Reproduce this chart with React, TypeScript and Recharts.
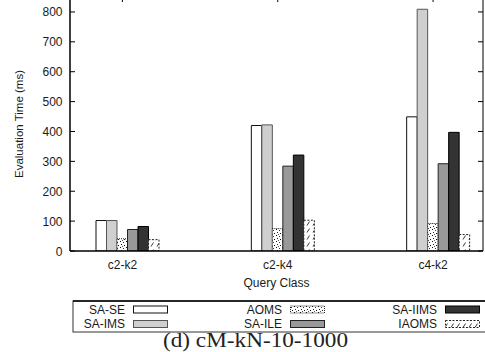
import React from 'react';
import { BarChart, Bar, XAxis, YAxis, ReferenceLine } from 'recharts';

const categories = ['c2-k2', 'c2-k4', 'c4-k2'];
const seriesNames = ['SA-SE', 'SA-IMS', 'AOMS', 'SA-ILE', 'SA-IIMS', 'IAOMS'];
const saSe = [102, 420, 449];
const saIms = [102, 422, 809];
const aoms = [41, 75, 92];
const saIle = [72, 284, 292];
const saIims = [82, 321, 397];
const iaoms = [38, 103, 55];
const yTicks = [0, 100, 200, 300, 400, 500, 600, 700, 800];

const seriesValues = [saSe, saIms, aoms, saIle, saIims, iaoms];

const data = categories.map((name, i) => {
  const row: Record<string, string | number> = { name };
  seriesNames.forEach((s, j) => {
    row[s] = seriesValues[j][i];
  });
  return row;
});

// look of each series (gnuplot-ish fills)
const styles: Record<string, { fill: string; stroke: string; dash?: string }> = {
  'SA-SE': { fill: '#ffffff', stroke: '#111' },
  'SA-IMS': { fill: '#cfcfcf', stroke: '#555' },
  AOMS: { fill: 'url(#patAoms)', stroke: '#222', dash: '1 1' },
  'SA-ILE': { fill: '#999999', stroke: '#222' },
  'SA-IIMS': { fill: '#333333', stroke: '#000' },
  IAOMS: { fill: 'url(#patIaoms)', stroke: '#222', dash: '2 1.5' },
};

const FONT = '"Liberation Sans", Arial, Helvetica, sans-serif';
const TEXT = '#1a1a1a';
const PLOT_LEFT = 70;
const PLOT_RIGHT = 483;
const PLOT_TOP = 8;
const PLOT_BOTTOM = 262;
const BAR = 10.5;
const SHIFT = BAR / 2;

function LeftTick(props: any) {
  const { y, payload } = props;
  return (
    <g>
      <line x1={PLOT_LEFT} x2={PLOT_LEFT + 5} y1={y} y2={y} stroke="#000" />
      <line x1={PLOT_RIGHT - 5} x2={PLOT_RIGHT} y1={y} y2={y} stroke="#000" />
      <text x={62.5} y={y + 4.5} textAnchor="end" fontSize={12} fontFamily={FONT} fill={TEXT}>
        {payload.value}
      </text>
    </g>
  );
}

function BottomTick(props: any) {
  const { x, payload } = props;
  const cx = x - SHIFT;
  return (
    <g>
      <line x1={cx} x2={cx} y1={PLOT_TOP} y2={PLOT_TOP + 5} stroke="#000" />
      <text x={cx} y={PLOT_BOTTOM + 18} textAnchor="middle" fontSize={12} fontFamily={FONT} fill={TEXT}>
        {payload.value}
      </text>
    </g>
  );
}

function YTitle(props: any) {
  const vb = props.viewBox || { y: PLOT_TOP, height: PLOT_BOTTOM - PLOT_TOP };
  const cy = vb.y + vb.height / 2;
  return (
    <text
      x={18.5}
      y={cy}
      transform={`rotate(-90 18.5 ${cy})`}
      textAnchor="middle"
      dominantBaseline="central"
      fontSize={11.5}
      fontFamily={FONT}
      fill={TEXT}
    >
      Evaluation Time (ms)
    </text>
  );
}

function XTitle(props: any) {
  const vb = props.viewBox || { x: PLOT_LEFT, width: PLOT_RIGHT - PLOT_LEFT, y: PLOT_BOTTOM };
  return (
    <text
      x={vb.x + vb.width / 2}
      y={PLOT_BOTTOM + 36.3}
      textAnchor="middle"
      fontSize={12}
      fontFamily={FONT}
      fill={TEXT}
    >
      Query Class
    </text>
  );
}

const legendCols = [125, 282, 437];
const legendRows = [309.5, 324];

function LegendBox() {
  return (
    <svg
      width={485}
      height={352}
      style={{ position: 'absolute', left: 0, top: 0, pointerEvents: 'none' }}
    >
      <defs>
        <pattern id="patAoms" width="6" height="6" patternUnits="userSpaceOnUse">
          <rect width="6" height="6" fill="#fff" />
          <rect x="0" y="0" width="1" height="1" fill="#111" />
          <rect x="3" y="1" width="1" height="1" fill="#333" />
          <rect x="1" y="3" width="1" height="1" fill="#222" />
          <rect x="4" y="4" width="1" height="1" fill="#111" />
          <rect x="2" y="5" width="1" height="1" fill="#555" />
        </pattern>
        <pattern id="patIaoms" width="6" height="7" patternUnits="userSpaceOnUse">
          <rect width="6" height="7" fill="#fff" />
          <line x1="1" y1="5.5" x2="3.5" y2="1.5" stroke="#222" strokeWidth="0.9" />
        </pattern>
      </defs>
      <rect x={73} y={301} width={430} height={31} fill="none" stroke="#333" strokeWidth={1} />
      <line x1={73} x2={485} y1={301} y2={301} stroke="#000" strokeWidth={1.6} />
      {seriesNames.map((s, i) => {
        const col = Math.floor(i / 2);
        const row = i % 2;
        const tx = legendCols[col];
        const cy = legendRows[row];
        const st = styles[s];
        return (
          <g key={s}>
            <text x={tx} y={cy + 4.3} textAnchor="end" fontSize={12} fontFamily={FONT} fill={TEXT}>
              {s}
            </text>
            <rect
              x={tx + 8.5}
              y={cy - 3.5}
              width={34}
              height={7}
              fill={st.fill}
              stroke={st.stroke}
              strokeDasharray={st.dash}
            />
          </g>
        );
      })}
      <text
        x={255.5}
        y={346.7}
        textAnchor="middle"
        fontSize={21}
        fontFamily='"Liberation Serif", "DejaVu Serif", serif'
        fill="#222"
        textLength={185}
        lengthAdjust="spacingAndGlyphs"
      >
        (d) cM-kN-10-1000
      </text>
    </svg>
  );
}

export default function App() {
  return (
    <div style={{ position: 'absolute', left: 0, top: 0, width: 485, height: 352, overflow: 'hidden', background: '#fff' }}>
      <div style={{ position: 'absolute', left: 0, top: -11 }}>
        <BarChart
          width={485}
          height={302}
          data={data}
          margin={{ top: PLOT_TOP, right: 0, bottom: 0, left: 0 }}
          barGap={0}
          barSize={BAR}
        >
          <XAxis
            dataKey="name"
            type="category"
            height={40}
            interval={0}
            padding={{ left: -20, right: -33 }}
            axisLine={{ stroke: '#000', strokeWidth: 1.5 }}
            tickLine={false}
            tick={<BottomTick />}
            label={{ content: (p: any) => <XTitle {...p} /> }}
          />
          <YAxis
            width={70}
            domain={[0, 850]}
            ticks={yTicks}
            interval={0}
            allowDataOverflow
            axisLine={{ stroke: '#000', strokeWidth: 1.5 }}
            tickLine={false}
            tick={<LeftTick />}
            label={{ content: (p: any) => <YTitle {...p} /> }}
          />
          <YAxis
            yAxisId="r"
            orientation="right"
            width={2}
            domain={[0, 850]}
            ticks={yTicks}
            axisLine={{ stroke: '#000', strokeWidth: 1 }}
            tickLine={false}
            tick={false}
          />
          <ReferenceLine y={850} stroke="#000" strokeWidth={1} ifOverflow="extendDomain" />
          {seriesNames.map((s) => (
            <Bar
              key={s}
              dataKey={s}
              fill={styles[s].fill}
              stroke={styles[s].stroke}
              strokeWidth={1}
              strokeDasharray={styles[s].dash}
              isAnimationActive={false}
            />
          ))}
        </BarChart>
      </div>
      <LegendBox />
    </div>
  );
}
